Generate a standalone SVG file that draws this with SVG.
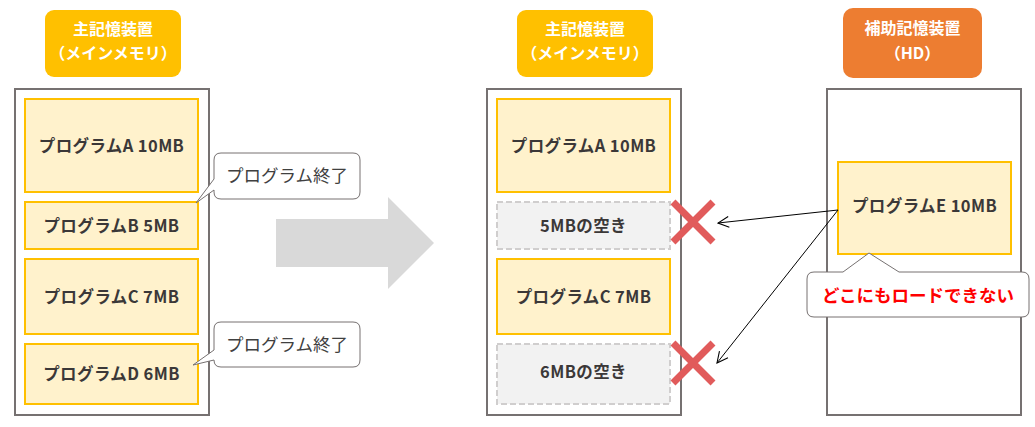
<svg xmlns="http://www.w3.org/2000/svg" width="1035" height="427" viewBox="0 0 1035 427">
<defs>
<style>
.hdr{fill:#FFC000}
.hdr2{fill:#ED7D31}
.htxt{font-family:"Noto Sans CJK JP","Noto Sans",sans-serif;font-weight:bold;font-size:16px;fill:#FFFFFF;text-anchor:middle}
.outer{fill:#FFFFFF;stroke:#767171;stroke-width:2}
.prog{fill:#FFF2CC;stroke:#FFC000;stroke-width:2}
.empty{fill:#F2F2F2;stroke:#D0CECE;stroke-width:2;stroke-dasharray:6 3}
.ptxt{font-family:"Noto Sans CJK JP","Noto Sans",sans-serif;font-weight:bold;font-size:16.5px;letter-spacing:0.4px;fill:#3B3838;text-anchor:middle;dominant-baseline:central}
.call{fill:#FFFFFF;stroke:#767171;stroke-width:1}
.ctxt{font-family:"Noto Sans CJK JP","Noto Sans",sans-serif;font-size:17.5px;fill:#404040;text-anchor:middle;dominant-baseline:central}
.rtxt{font-family:"Noto Sans CJK JP","Noto Sans",sans-serif;font-weight:bold;font-size:17.5px;fill:#FF0000;text-anchor:middle;dominant-baseline:central}
.cross{stroke:#E15B5B;stroke-width:7;fill:none}
.conn{stroke:#000000;stroke-width:1;fill:none}
</style>
<marker id="open" viewBox="0 0 12 12" refX="11" refY="6" markerWidth="13" markerHeight="13" markerUnits="userSpaceOnUse" orient="auto">
<path d="M1,1 L11,6 L1,11" fill="none" stroke="#000000" stroke-width="1"/>
</marker>
</defs>

<g id="left-header">
<rect class="hdr" x="45" y="10" width="136" height="67" rx="9"/>
<text class="htxt" x="113" y="35">主記憶装置</text>
<text class="htxt" x="113" y="59">（メインメモリ）</text>
</g>
<g id="left-memory">
<rect class="outer" x="15" y="89" width="194" height="326"/>
</g>
<g id="left-progA"><rect class="prog" x="25" y="99" width="173" height="93"/><text class="ptxt" x="111.5" y="145">プログラムA 10MB</text></g>
<g id="left-progB"><rect class="prog" x="25" y="202" width="173" height="47"/><text class="ptxt" x="111.5" y="224.5">プログラムB 5MB</text></g>
<g id="left-progC"><rect class="prog" x="25" y="259" width="173" height="75"/><text class="ptxt" x="111.5" y="295.5">プログラムC 7MB</text></g>
<g id="left-progD"><rect class="prog" x="25" y="344" width="173" height="60"/><text class="ptxt" x="111.5" y="373">プログラムD 6MB</text></g>

<g id="callout-end1">
<path class="call" d="M221,153 H353 Q360,153 360,160 V192 Q360,199 353,199 H221 Q214,199 214,192 V190 L196,203 L214,179 V160 Q214,153 221,153 Z"/>
<text class="ctxt" x="287" y="174">プログラム終了</text>
</g>
<g id="callout-end2">
<path class="call" d="M221,322 H353 Q360,322 360,329 V360 Q360,367 353,367 H221 Q214,367 214,360 L193,365 L214,350 V329 Q214,322 221,322 Z"/>
<text class="ctxt" x="287" y="343">プログラム終了</text>
</g>

<g id="big-arrow">
<polygon points="276,219 388,219 388,197 434,243 388,289 388,267 276,267" fill="#D9D9D9"/>
</g>

<g id="mid-header">
<rect class="hdr" x="517" y="10" width="136" height="67" rx="9"/>
<text class="htxt" x="585" y="35">主記憶装置</text>
<text class="htxt" x="585" y="59">（メインメモリ）</text>
</g>
<g id="mid-memory">
<rect class="outer" x="487" y="89" width="194" height="326"/>
</g>
<g id="mid-progA"><rect class="prog" x="497" y="99" width="173" height="93"/><text class="ptxt" x="583.5" y="145">プログラムA 10MB</text></g>
<g id="mid-free5"><rect class="empty" x="497" y="202" width="173" height="47"/><text class="ptxt" x="583.5" y="224.5">5MBの空き</text></g>
<g id="mid-progC"><rect class="prog" x="497" y="259" width="173" height="75"/><text class="ptxt" x="583.5" y="295.5">プログラムC 7MB</text></g>
<g id="mid-free6"><rect class="empty" x="497" y="344" width="173" height="60"/><text class="ptxt" x="583.5" y="370.5">6MBの空き</text></g>

<g id="cross1"><path class="cross" d="M673,202 L713,242 M713,202 L673,242"/></g>
<g id="cross2"><path class="cross" d="M673,343 L713,383 M713,343 L673,383"/></g>

<g id="right-header">
<rect class="hdr2" x="843" y="8" width="139" height="70" rx="10"/>
<text class="htxt" x="912.5" y="34">補助記憶装置</text>
<text class="htxt" x="912.5" y="59">（HD）</text>
</g>
<g id="right-memory">
<rect class="outer" x="827" y="89" width="194" height="326"/>
</g>
<g id="right-progE"><rect class="prog" x="838" y="162" width="173" height="92"/><text class="ptxt" x="924.5" y="205">プログラムE 10MB</text></g>

<g id="callout-noload">
<path class="call" d="M814,272 H843 L869,253 L899,272 H1022 Q1029,272 1029,279 V310 Q1029,317 1022,317 H814 Q807,317 807,310 V279 Q807,272 814,272 Z"/>
<text class="rtxt" x="918" y="294">どこにもロードできない</text>
</g>

<g id="connectors">
<line class="conn" x1="838" y1="210" x2="718" y2="223" marker-end="url(#open)"/>
<line class="conn" x1="838" y1="210" x2="717" y2="363" marker-end="url(#open)"/>
</g>
</svg>
